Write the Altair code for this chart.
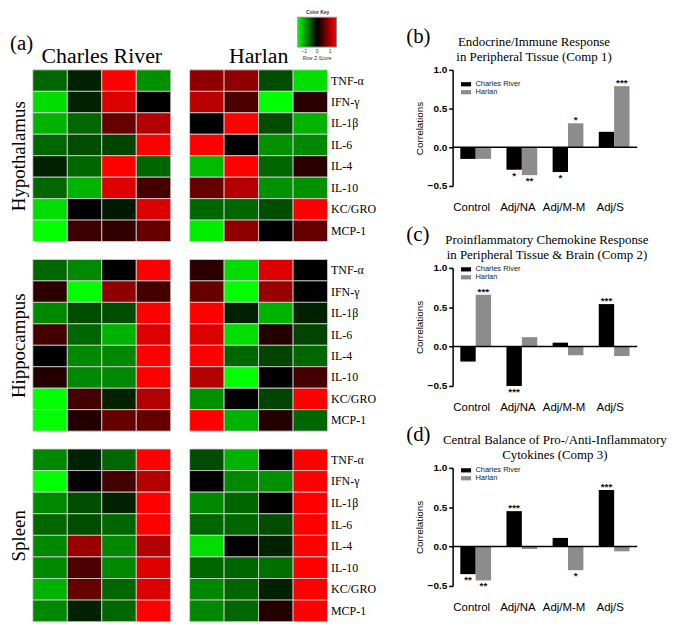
import altair as alt
import pandas as pd

SERIF = "Liberation Serif"
SANS = "Liberation Sans"

# ---------------- heatmap data (row z-scores, 4 animals per strain) ----------------
cytokines = ["TNF-α", "IFN-γ", "IL-1β", "IL-6", "IL-4", "IL-10", "KC/GRO", "MCP-1"]
animal_cols = [1, 2, 3, 4]

hyp_cr = [[-0.6, -0.2, 1.5, -0.85], [-1.3, -0.2, 1.3, 0.0], [-1.05, -0.6, 0.6, 1.05], [-0.6, -0.45, -0.4, 1.5],
          [-0.2, -0.6, 1.5, -0.6], [-0.6, -1.05, 1.3, 0.4], [-1.3, 0.0, -0.15, 1.3], [-1.5, 0.35, 0.3, 0.6]]
hyp_h = [[0.85, 0.85, -0.45, -1.3], [1.1, 0.45, -1.5, 0.25], [0.0, 1.5, -0.45, -1.05], [1.5, 0.0, -0.85, -0.8],
         [-1.1, 1.5, -0.6, 0.25], [0.6, 1.05, -0.85, -0.85], [-0.6, -0.6, -0.45, 1.5], [-1.4, 0.85, 0.0, 0.6]]
hip_cr = [[-0.6, -0.8, 0.0, 1.5], [0.25, -1.5, 0.85, 0.4], [-0.8, -0.45, -0.45, 1.5], [0.4, -0.6, -1.05, 1.3],
          [0.0, -0.8, -0.8, 1.5], [0.2, -0.8, -0.8, 1.5], [-1.5, 0.4, -0.2, 1.05], [-1.5, 0.2, 0.6, 0.6]]
hip_h = [[0.25, -1.3, 1.3, 0.0], [0.6, -1.5, 0.9, 0.0], [1.5, -0.2, -1.05, -0.2], [1.3, -1.3, 0.2, -0.4],
         [1.5, -0.6, -0.4, -0.6], [1.05, -1.5, 0.0, 0.4], [-0.85, 0.0, -0.4, 1.5], [1.5, -1.05, 0.2, -0.6]]
spl_cr = [[-0.8, -0.2, -0.6, 1.5], [-1.5, 0.0, 0.4, 1.05], [-0.8, -0.45, -0.2, 1.5], [-0.6, -0.45, -0.6, 1.5],
          [-0.8, 0.9, -0.8, 1.05], [-0.8, 0.45, -0.8, 1.3], [-1.05, 0.6, -0.6, 1.3], [-0.8, -0.2, -0.6, 1.5]]
spl_h = [[-0.45, -1.05, 0.0, 1.5], [0.0, -0.8, -0.85, 1.5], [-0.8, -0.6, 0.0, 1.5], [-0.6, -0.6, -0.45, 1.5],
         [-1.3, 0.0, -0.2, 1.5], [-0.6, -0.6, -0.65, 1.5], [-0.8, -0.6, -0.2, 1.5], [-0.8, -0.6, 0.2, 1.5]]

# ---------------- bar chart data ----------------
categories = ["Control", "Adj/NA", "Adj/M-M", "Adj/S"]
strains = ["Charles River", "Harlan"]

b_cr = [-0.15, -0.29, -0.32, 0.20]
b_h = [-0.15, -0.36, 0.31, 0.79]
b_cr_sig = ["", "*", "*", ""]
b_h_sig = ["", "**", "*", "***"]

c_cr = [-0.19, -0.50, 0.05, 0.54]
c_h = [0.66, 0.12, -0.11, -0.12]
c_cr_sig = ["", "***", "", "***"]
c_h_sig = ["***", "", "", ""]

d_cr = [-0.35, 0.45, 0.11, 0.72]
d_h = [-0.43, -0.03, -0.30, -0.06]
d_cr_sig = ["**", "***", "", "***"]
d_h_sig = ["**", "", "*", ""]


def heat_df(rows):
    recs = []
    for cyt, vals in zip(cytokines, rows):
        for c, v in zip(animal_cols, vals):
            recs.append({"cytokine": cyt, "col": c, "z": v})
    return pd.DataFrame(recs)


def bar_df(cr, h, cr_sig, h_sig):
    recs = []
    for i, cat in enumerate(categories):
        recs.append({"category": cat, "strain": strains[0], "value": cr[i], "sig": cr_sig[i]})
        recs.append({"category": cat, "strain": strains[1], "value": h[i], "sig": h_sig[i]})
    return pd.DataFrame(recs)


color_scale = alt.Scale(domain=[-1.5, 0, 1.5], range=["#00ff00", "#000000", "#ff0000"],
                        interpolate="rgb", clamp=True)

key_legend = alt.Legend(
    title="Color Key", orient="none", legendX=267, legendY=-60, direction="horizontal",
    gradientLength=39, gradientThickness=30, gradientStrokeColor="#8a8a8a", gradientStrokeWidth=1,
    values=[-1, 0, 1],
    labelExpr="datum.value == 0 ? ['0', 'Row Z-Score'] : format(datum.value, 'd')",
    labelFont=SANS, labelFontSize=5, labelColor="#333", labelOverlap=False, labelOffset=2,
    titleFont=SANS, titleFontSize=5, titleFontWeight="bold", titleColor="#333",
    titleAnchor="middle", titlePadding=2, padding=0,
)


def heatmap(rows, height, side, tissue="", top_title=""):
    if side == "left":
        yaxis = alt.Axis(labels=False, ticks=False, domain=False, title=tissue, titleFont=SERIF,
                         titleFontSize=19, titleFontWeight="normal", titleColor="black", titlePadding=4)
    else:
        yaxis = alt.Axis(orient="right", title=None, ticks=False, domain=False, labelFont=SERIF,
                         labelFontSize=12, labelColor="black", labelPadding=3)
    ch = alt.Chart(heat_df(rows)).mark_rect(stroke="#d9d9d9", strokeWidth=0.8).encode(
        x=alt.X("col:O", axis=None, scale=alt.Scale(paddingInner=0, paddingOuter=0)),
        y=alt.Y("cytokine:N", sort=cytokines, axis=yaxis,
                scale=alt.Scale(paddingInner=0, paddingOuter=0)),
        color=alt.Color("z:Q", scale=color_scale, legend=key_legend),
    )
    if top_title:
        return ch.properties(width=139, height=height,
                             title=alt.TitleParams(top_title, font=SERIF, fontSize=22, fontWeight="normal",
                                                   color="black", anchor="middle", frame="group", offset=2))
    return ch.properties(width=139, height=height)


row1 = alt.hconcat(heatmap(hyp_cr, 173, "left", "Hypothalamus", "Charles River"),
                   heatmap(hyp_h, 173, "right", top_title="Harlan"), spacing=17)
row2 = alt.hconcat(heatmap(hip_cr, 173, "left", "Hippocampus"),
                   heatmap(hip_h, 173, "right"), spacing=17)
row3 = alt.hconcat(heatmap(spl_cr, 174, "left", "Spleen"),
                   heatmap(spl_h, 174, "right"), spacing=17)

left_col = alt.vconcat(row1, row2, row3, spacing=16,
                       title=alt.TitleParams(" ", fontSize=4, subtitle="(a)", subtitleFont=SERIF,
                                             subtitleFontSize=21, subtitleColor="black",
                                             subtitlePadding=16, anchor="start", dx=0, offset=-9))


def bar_panel(df, letter, heading, head_offset, head_dx, legend_y, plot_h):
    x_enc = alt.X("category:N", sort=categories, title=None,
                  scale=alt.Scale(paddingInner=0.333, paddingOuter=0.1665),
                  axis=alt.Axis(domain=False, ticks=False, labelFont=SANS, labelFontSize=11.5,
                                labelColor="black", labelPadding=16, labelAngle=0, labelOffset=-4))
    xo = alt.XOffset("strain:N", sort=strains, scale=alt.Scale(paddingInner=0, paddingOuter=0))
    y_enc = alt.Y("value:Q", stack=None, scale=alt.Scale(domain=[-0.5, 1.0], nice=False, zero=False),
                  axis=alt.Axis(values=[-0.5, 0, 0.5, 1.0], format=".1f", title="Correlations",
                                titleFont=SANS, titleFontSize=10, titleFontWeight="normal",
                                titleColor="black", titlePadding=3, labelFont=SANS, labelFontSize=10,
                                labelFontWeight="bold", labelColor="black", labelPadding=2, tickSize=4,
                                tickWidth=1.5, tickColor="black", domainColor="black", domainWidth=1.5,
                                grid=False))
    fill_enc = alt.Fill("strain:N", sort=strains,
                        scale=alt.Scale(domain=strains, range=["#000000", "#8c8c8c"]),
                        legend=alt.Legend(title=None, orient="none", legendX=9, legendY=legend_y,
                                          symbolType="M-1.2,-0.5H1.2V0.5H-1.2Z", symbolSize=72,
                                          symbolStrokeWidth=0, labelFont=SANS, labelFontSize=7.5,
                                          labelColor="#222", rowPadding=0, padding=0, labelOffset=5))
    bars = alt.Chart(df).mark_bar().encode(x=x_enc, xOffset=xo, y=y_enc, fill=fill_enc)
    zero = alt.Chart(pd.DataFrame({"value": [0.0]})).mark_rule(color="black", strokeWidth=1.5).encode(y=y_enc)
    pos = alt.Chart(df).transform_filter("datum.value > 0 && datum.sig != ''").mark_text(
        baseline="alphabetic", font=SANS, fontSize=10, fontWeight="bold", color="#111"
    ).encode(x=x_enc, xOffset=xo, y=y_enc, text="sig:N")
    neg = alt.Chart(df).transform_filter("datum.value < 0 && datum.sig != ''").mark_text(
        baseline="top", dy=1, font=SANS, fontSize=10, fontWeight="bold", color="#111"
    ).encode(x=x_enc, xOffset=xo, y=y_enc, text="sig:N")
    layer = alt.layer(bars, zero, pos, neg).properties(
        width=186, height=plot_h,
        title=alt.TitleParams(heading, font=SERIF, fontSize=13, fontWeight="normal", color="black",
                              anchor="middle", frame="group", offset=head_offset, dx=head_dx,
                              lineHeight=15))
    return alt.vconcat(layer, title=alt.TitleParams(letter, font=SERIF, fontSize=21, fontWeight="normal",
                                                    color="black", anchor="start", dx=-8, dy=11,
                                                    offset=0)).resolve_scale(fill="independent")


pb = bar_panel(bar_df(b_cr, b_h, b_cr_sig, b_h_sig), "(b)",
               ["Endocrine/Immune Response", "in Peripheral Tissue (Comp 1)"], 1, -11, 10, 117)
pc = bar_panel(bar_df(c_cr, c_h, c_cr_sig, c_h_sig), "(c)",
               ["Proinflammatory Chemokine Response", "in Peripheral Tissue & Brain (Comp 2)"], 1, 2, -3, 119)
pd_ = bar_panel(bar_df(d_cr, d_h, d_cr_sig, d_h_sig), "(d)",
                ["Central Balance of Pro-/Anti-Inflammatory", "Cytokines  (Comp 3)"], 1, 10, -2, 119)

right_col = alt.vconcat(pb, pc, pd_, spacing=10.5).resolve_scale(fill="independent")

chart = alt.hconcat(left_col, right_col, spacing=30).resolve_scale(fill="independent").properties(
    padding={"left": 2, "top": 0, "right": 0, "bottom": 0}).configure_view(strokeWidth=0)

chart.save("out.html", embed_options={"renderer": "svg", "actions": False})
